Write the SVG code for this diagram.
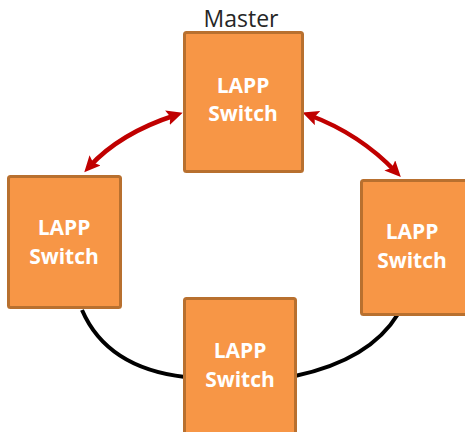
<svg xmlns="http://www.w3.org/2000/svg" width="465" height="432" viewBox="0 0 465 432">
  <style>
    .box { fill: #F79646; stroke: #B8702F; stroke-width: 3; }
    .lbl { font-family: "Open Sans", "Liberation Sans", sans-serif; font-weight: bold; font-size: 21px; fill: #FFFFFF; text-anchor: middle; }
    .title { font-family: "Open Sans", "Liberation Sans", sans-serif; font-size: 23px; fill: #262626; text-anchor: middle; }
    .ring { fill: none; stroke: #000000; stroke-width: 4; }
    .link { fill: none; stroke: #C00000; stroke-width: 4.5; marker-start: url(#head); marker-end: url(#head); }
  </style>
  <defs>
    <!-- notched arrowhead used on both ends of the red links -->
    <marker id="head" markerUnits="userSpaceOnUse" markerWidth="17" markerHeight="15" refX="9" refY="7.5" orient="auto-start-reverse" viewBox="0 0 17 15">
      <path d="M0,0 L16,7.5 L0,15 L3,7.5 z" fill="#C00000"/>
    </marker>
  </defs>

  <rect width="465" height="432" fill="#FFFFFF"/>

  <g id="connectors">
    <path class="ring" d="M82,310 Q107,368 185,377"/>
    <path class="ring" d="M295,376 Q370,360 398,314"/>
    <path class="link" d="M176,115 Q120,133 89,167"/>
    <path class="link" d="M309,115 Q360,134 396,172"/>
  </g>

  <g id="master">
    <text class="title" x="241" y="27">Master</text>
    <rect class="box" x="184.5" y="32.5" width="118" height="139" rx="2"/>
    <text class="lbl" x="243" y="93">LAPP</text>
    <text class="lbl" x="243" y="121">Switch</text>
  </g>

  <g id="switch-left">
    <rect class="box" x="8.5" y="176.5" width="112" height="131" rx="2"/>
    <text class="lbl" x="64" y="235">LAPP</text>
    <text class="lbl" x="64" y="264">Switch</text>
  </g>

  <g id="switch-right">
    <rect class="box" x="361.5" y="180.5" width="110" height="134" rx="2"/>
    <text class="lbl" x="412" y="239">LAPP</text>
    <text class="lbl" x="412" y="268">Switch</text>
  </g>

  <g id="switch-bottom">
    <rect class="box" x="184.5" y="298.5" width="111" height="140" rx="2"/>
    <text class="lbl" x="240" y="358">LAPP</text>
    <text class="lbl" x="240" y="387">Switch</text>
  </g>
</svg>
